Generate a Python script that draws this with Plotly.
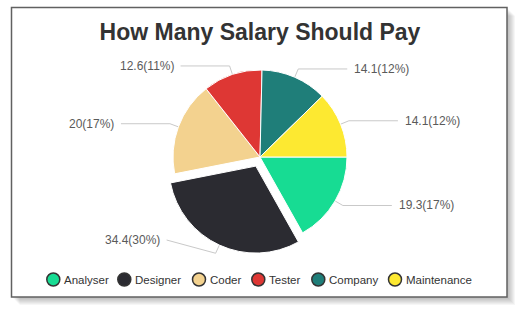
import math
import plotly.graph_objects as go

# ---------------- data ----------------
categories = ["Analyser", "Designer", "Coder", "Tester", "Company", "Maintenance"]
values = [19.3, 34.4, 20, 12.6, 14.1, 14.1]
colors = ["#17dc93", "#2b2b31", "#f3d28f", "#de3734", "#1f7e79", "#fde931"]
pulled = [0, 1, 0, 0, 0, 0]
title_text = "How Many Salary Should Pay"

# ---------------- layout constants (pixels) ----------------
W, H = 520, 310
CX, CY, R = 260.0, 157.0, 87.0
PULL_PX = 10.0
L1, L2, GAP = 9.0, 49.0, 5.0
LABEL_MAX_Y = 240.0
LEGEND_Y = 279.5
LEGEND_X = [53.3, 124.3, 199.0, 258.3, 318.3, 395.0]
FONT = "Liberation Sans, Arial, sans-serif"

pull_frac = PULL_PX / R
total = sum(values)

fig = go.Figure()

# frame with soft shadow
shapes = []
for i in range(1, 9):
    shapes.append(dict(type="rect", xref="x", yref="y", x0=11.5 + i, y0=7.5 + i,
                       x1=507 + i, y1=297 + i, fillcolor="rgba(0,0,0,0.035)",
                       line=dict(width=0), layer="below"))
shapes.append(dict(type="rect", xref="x", yref="y", x0=11.5, y0=7.5, x1=507, y1=297,
                   fillcolor="white", line=dict(color="#616161", width=1.5), layer="below"))

# pie
dom_h = 2 * R * (1 + pull_frac)
y0 = (H - (CY + dom_h / 2)) / H
y1 = (H - (CY - dom_h / 2)) / H
fig.add_trace(go.Pie(
    labels=categories, values=values, sort=False, direction="clockwise", rotation=90,
    marker=dict(colors=colors, line=dict(color="white", width=1)),
    pull=[p * pull_frac for p in pulled], textinfo="none", hoverinfo="label+value+percent",
    showlegend=False, domain=dict(x=[0, 1], y=[y0, y1]),
))

# leader lines and labels (computed from data angles)
annotations = []
cum = 0.0
for cat, v, p in zip(categories, values, pulled):
    frac = v / total
    mid = (cum + frac / 2) * 2 * math.pi
    cum += frac
    dx, dy = math.cos(mid), math.sin(mid)
    ox, oy = CX + p * PULL_PX * dx, CY + p * PULL_PX * dy
    p0 = (ox + R * dx, oy + R * dy)
    p1 = (ox + (R + L1) * dx, oy + (R + L1) * dy)
    side = 1 if dx >= 0 else -1
    ly = min(p1[1], LABEL_MAX_Y)
    p2 = (p1[0] + side * L2, ly)
    fig.add_trace(go.Scatter(x=[p0[0], p1[0], p2[0]], y=[p0[1], p1[1], p2[1]], mode="lines",
                             line=dict(color="#c9c9c9", width=1), hoverinfo="skip",
                             showlegend=False))
    pct = round(frac * 100)
    annotations.append(dict(x=p2[0] + side * GAP, y=ly, xref="x", yref="y",
                            text=f"{v:g}({pct}%)", showarrow=False,
                            xanchor="left" if side > 0 else "right", yanchor="middle",
                            font=dict(family=FONT, size=12, color="#5a5a5a")))

# custom legend
fig.add_trace(go.Scatter(x=LEGEND_X, y=[LEGEND_Y] * len(LEGEND_X), mode="markers",
                         marker=dict(size=13, color=colors, line=dict(color="#333333", width=1.5)),
                         hoverinfo="skip", showlegend=False))
for lx, cat in zip(LEGEND_X, categories):
    annotations.append(dict(x=lx + 9, y=LEGEND_Y, xref="x", yref="y", text=cat,
                            showarrow=False, xanchor="left", yanchor="middle",
                            font=dict(family=FONT, size=11.5, color="#333333")))

fig.update_layout(
    width=W, height=H, margin=dict(l=0, r=0, t=0, b=0),
    paper_bgcolor="white", plot_bgcolor="rgba(0,0,0,0)",
    xaxis=dict(range=[0, W], visible=False, fixedrange=True, domain=[0, 1]),
    yaxis=dict(range=[H, 0], visible=False, fixedrange=True, domain=[0, 1]),
    title=dict(text=title_text, x=0.5, xanchor="center", y=1 - 31.5 / H, yanchor="middle",
               xref="container", yref="container",
               font=dict(family=FONT, size=23, color="#333333", weight="bold")),
    shapes=shapes, annotations=annotations, showlegend=False,
)

fig.write_html("out.html")
